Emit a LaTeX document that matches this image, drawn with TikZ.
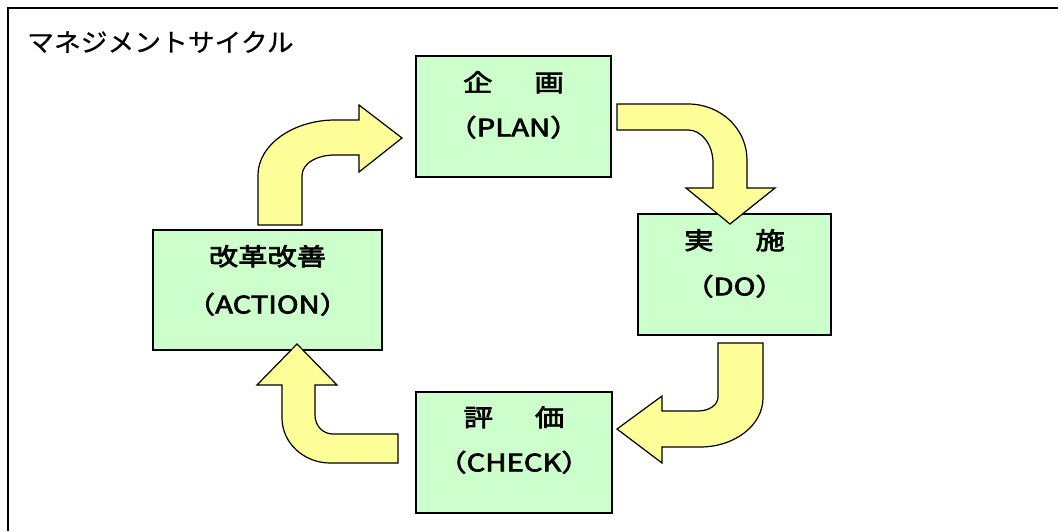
\documentclass[tikz,border=0pt]{standalone}
\usepackage{fontspec}
\usepackage{tikz}
\newfontfamily\titlefont[FakeStretch=1.05,FakeBold=0.6]{Noto Sans CJK JP}
\newfontfamily\boxfont[FakeStretch=1.22,FakeBold=3]{Noto Sans CJK JP}
\definecolor{boxgreen}{HTML}{CCFFCC}
\definecolor{arrowyellow}{HTML}{FFFF99}
\newcommand{\wsp}{\hspace{42pt}}

\begin{document}
\begin{tikzpicture}[x=1pt, y=-1pt]
\tikzstyle{box}=[draw, line width=1.5pt, fill=boxgreen, inner sep=0pt]
\tikzstyle{boxtext}=[inner sep=0pt, font=\boxfont\fontsize{24}{28}\selectfont]
\tikzstyle{bendarrow}=[draw, line width=1.2pt, fill=arrowyellow, line join=miter]
\useasboundingbox (0,0) rectangle (1058,531);
\draw [line width=2pt] (8.3,531) -- (8.3,7.5) -- (1058,7.5);
\node (title) [anchor=west, inner sep=0pt, font=\titlefont\fontsize{25.5}{29}\selectfont] at (27,42) {マネジメントサイクル};
% boxes
\node (plan) [box, minimum width=195, minimum height=121] at (513.5,116.5) {};
\node (do) [box, minimum width=193, minimum height=121] at (734.5,274.5) {};
\node (action) [box, minimum width=229, minimum height=120] at (267.5,290) {};
\node (check) [box, minimum width=196, minimum height=121] at (514,452.5) {};
\node (planA) [boxtext] at ([yshift=-27pt]plan.north) {企\wsp 画};
\node (planB) [boxtext] at ([yshift=-72pt]plan.north) {（PLAN）};
\node (doA) [boxtext] at ([yshift=-27pt]do.north) {実\wsp 施};
\node (doB) [boxtext] at ([yshift=-73pt]do.north) {（DO）};
\node (actionA) [boxtext] at ([yshift=-27pt]action.north) {改革改善};
\node (actionB) [boxtext] at ([yshift=-75pt]action.north) {（ACTION）};
\node (checkA) [boxtext] at ([yshift=-26pt]check.north) {評\wsp 価};
\node (checkB) [boxtext] at ([yshift=-71pt]check.north) {（CHECK）};
% bent arrows
\path [bendarrow] (258,225) -- (258,175) .. controls (258,145) and (293,120) .. (335,120) -- (359,120) -- (359,105) -- (402,138) -- (359,172) -- (359,155) -- (335,155) .. controls (317,155) and (302,163) .. (302,176) -- (302,225) -- cycle;
\path [bendarrow] (617,104) -- (688,104) .. controls (721,104) and (747,129) .. (747,160) -- (747,188) -- (775,188) -- (730,224) -- (686,188) -- (713,188) -- (713,163) .. controls (713,145) and (702,130) .. (688,130) -- (617,130) -- cycle;
\path [bendarrow] (718,343) -- (763,343) -- (763,398) .. controls (763,425) and (735,447) .. (700,447) -- (662,447) -- (662,463) -- (617,429) -- (662,396) -- (662,411) -- (698,411) .. controls (709,411) and (718,405) .. (718,397) -- cycle;
\path [bendarrow] (398,434) -- (333,434) .. controls (323,434) and (315,426) .. (315,415) -- (315,385) -- (337,385) -- (297,344) -- (257,385) -- (282,385) -- (282,418) .. controls (282,443) and (304,463) .. (330,463) -- (398,463) -- cycle;
\end{tikzpicture}
\end{document}
